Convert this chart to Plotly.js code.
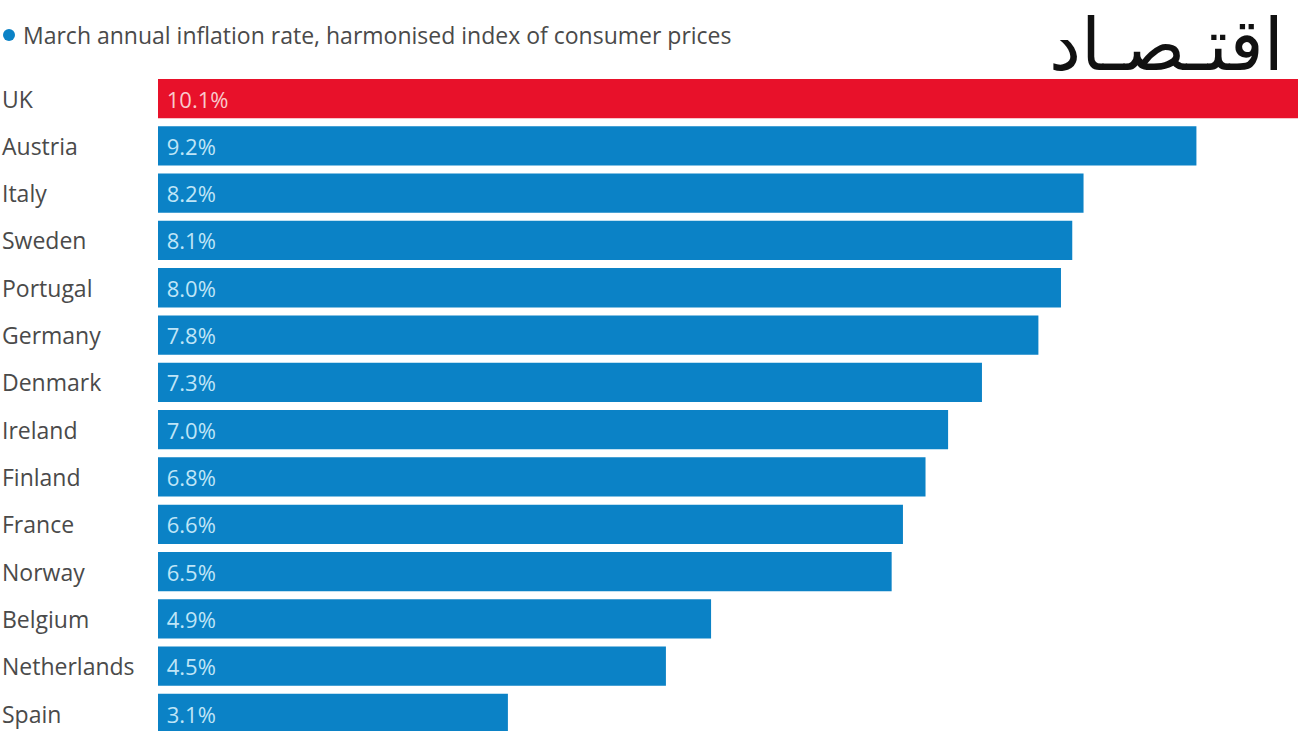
<!DOCTYPE html>
<html>
<head>
<meta charset="utf-8">
<script src="https://cdn.plot.ly/plotly-3.0.1.min.js"></script>
<style>html,body{margin:0;padding:0;background:#fff;}#chart{width:1300px;height:731px;}</style>
</head>
<body>
<div id="chart"></div>
<script>
const countries = ["UK","Austria","Italy","Sweden","Portugal","Germany","Denmark","Ireland","Finland","France","Norway","Belgium","Netherlands","Spain"];
const rates = [10.1,9.2,8.2,8.1,8.0,7.8,7.3,7.0,6.8,6.6,6.5,4.9,4.5,3.1];
const highlight = "UK";
const subtitle = "March annual inflation rate, harmonised index of consumer prices";
const logoText = "اقتـصـاد";

const RED = "#e8112a", BLUE = "#0b82c6";
const barColors = countries.map(c => c === highlight ? RED : BLUE);
const textColors = countries.map(c => c === highlight ? "#f9c9cc" : "#bfe5f7");
const labels = rates.map(v => "\u00a0" + v.toFixed(1) + "%");

const trace = {
  type: "bar",
  orientation: "h",
  x: rates,
  y: countries,
  marker: {color: barColors, line: {width: 0}},
  text: labels,
  textposition: "inside",
  insidetextanchor: "start",
  textfont: {family: "Open Sans, sans-serif", size: 22, color: textColors},
  hoverinfo: "skip",
  cliponaxis: false
};

const annotations = countries.map(c => ({
  xref: "paper", yref: "y",
  x: -158/1140, y: c,
  xanchor: "left", yanchor: "middle",
  text: c, showarrow: false,
  font: {family: "Open Sans, sans-serif", size: 23, color: "#4a4a4a"}
}));
annotations.push({
  xref: "paper", yref: "paper",
  x: (21-158)/1140, y: 1 - 35/731,
  xanchor: "left", yanchor: "middle",
  text: subtitle, showarrow: false,
  font: {family: "Open Sans, sans-serif", size: 23, color: "#4a4a4a"}
});
annotations.push({
  xref: "paper", yref: "paper",
  x: (1286-158)/1140, y: 1 - 45/731,
  xanchor: "right", yanchor: "middle",
  text: logoText, showarrow: false,
  font: {family: "DejaVu Sans, sans-serif", size: 72, color: "#111"}
});

const layout = {
  width: 1300, height: 731,
  margin: {l: 158, r: 2, t: 0, b: 0},
  paper_bgcolor: "#fff", plot_bgcolor: "#fff",
  bargap: 0.17,
  showlegend: false,
  xaxis: {range: [0, 10.1], visible: false, fixedrange: true},
  yaxis: {type: "category", range: [13.37, -2.083], showticklabels: false, showgrid: false, zeroline: false, showline: false, ticks: ""},
  shapes: [{
    type: "circle", xref: "paper", yref: "paper",
    x0: (3-158)/1140, x1: (15-158)/1140, y0: 1 - 41/731, y1: 1 - 29/731,
    fillcolor: BLUE, line: {width: 0}, layer: "above"
  }],
  annotations: annotations
};

Plotly.newPlot("chart", [trace], layout, {staticPlot: true, displayModeBar: false});
</script>
</body>
</html>
